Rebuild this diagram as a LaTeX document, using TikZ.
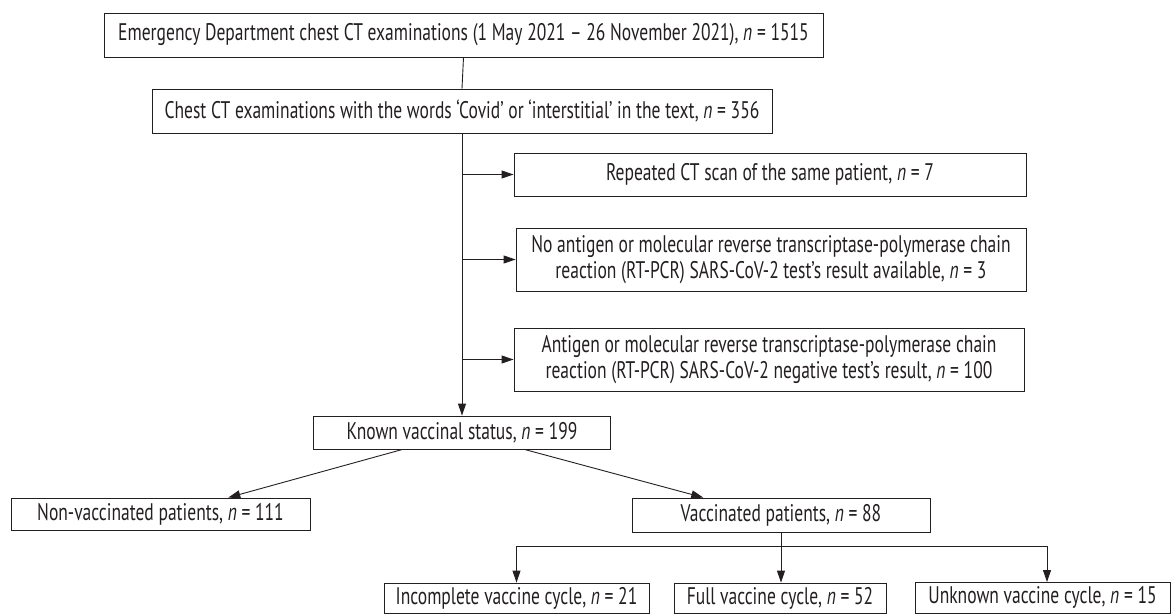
\documentclass[tikz,border=0pt]{standalone}
\usepackage{fontspec}
\setmainfont{PT Sans}[FakeStretch=0.73]
\usetikzlibrary{arrows.meta,calc}
\definecolor{ink}{HTML}{231F20}
\begin{document}
\begin{tikzpicture}[x=1pt,y=-1pt,
  box/.style={draw=ink, line width=0.9pt, inner sep=0pt, align=center,
    font=\fontsize{24}{26}\selectfont, text=ink},
  ln/.style={draw=ink, line width=0.9pt},
  arr/.style={ln, -{Triangle[length=12pt,width=8pt]}}]
\useasboundingbox (0,0) rectangle (1171,614);
\newcommand{\nn}{\textit{n} = }
\node[box, minimum width=719pt, minimum height=44pt] (b1) at (463.5,35)
  {Emergency Department chest CT examinations (1 May 2021 – 26 November 2021), \nn 1515};
\node[box, minimum width=620pt, minimum height=44pt] (b2) at (462,111)
  {Chest CT examinations with the words ‘Covid’ or ‘interstitial’ in the text, \nn 356};
\node[box, minimum width=512pt, minimum height=43pt] (b3) at (770,174.5)
  {Repeated CT scan of the same patient, \nn 7};
\node[box, minimum width=510pt, minimum height=63pt] (b4) at (771,259.5)
  {No antigen or molecular reverse transcriptase-polymerase chain\\reaction (RT-PCR) SARS-CoV-2 test’s result available, \nn 3};
\node[box, minimum width=510pt, minimum height=63pt] (b5) at (769,359.5)
  {Antigen or molecular reverse transcriptase-polymerase chain\\reaction (RT-PCR) SARS-CoV-2 negative test’s result, \nn 100};
\node[box, minimum width=297pt, minimum height=33pt] (known) at (462,432.5)
  {Known vaccinal status, \nn 199};
\node[box, minimum width=299pt, minimum height=32pt] (nonv) at (160.5,514)
  {Non-vaccinated patients, \nn 111};
\node[box, minimum width=298pt, minimum height=34pt] (vacc) at (781,515)
  {Vaccinated patients, \nn 88};
\node[box, minimum width=265pt, minimum height=30pt] (inc) at (516.5,598)
  {Incomplete vaccine cycle, \nn 21};
\node[box, minimum width=212pt, minimum height=30pt] (full) at (780,598)
  {Full vaccine cycle, \nn 52};
\node[box, minimum width=255pt, minimum height=31pt] (unk) at (1042.5,597.5)
  {Unknown vaccine cycle, \nn 15};
\coordinate (hl) at (0,546);
\coordinate (ua) at (1047,582);
% main trunk
\draw[ln] (b1.south) -- (b2.north);
\draw[arr] (b2.south) -- (known.north);
\draw[arr] (b3.west -| b2.south) -- (b3.west);
\draw[arr] (b4.west -| b2.south) -- (b4.west);
\draw[arr] (b5.west -| b2.south) -- (b5.west);
% split
\draw[arr] ($(known.south west)!0.3!(known.south east)$) -- ($(nonv.north west)!0.726!(nonv.north east)$);
\draw[arr] ($(known.south west)!0.71!(known.south east)$) -- ($(vacc.north west)!0.24!(vacc.north east)$);
\draw[ln] (vacc.south) -- (vacc.south |- hl);
\draw[ln] (inc.north |- hl) -- (ua |- hl);
\draw[arr] (inc.north |- hl) -- (inc.north);
\draw[arr] (vacc.south |- hl) -- (vacc.south |- full.north);
\draw[arr] (ua |- hl) -- (ua);
\end{tikzpicture}
\end{document}
